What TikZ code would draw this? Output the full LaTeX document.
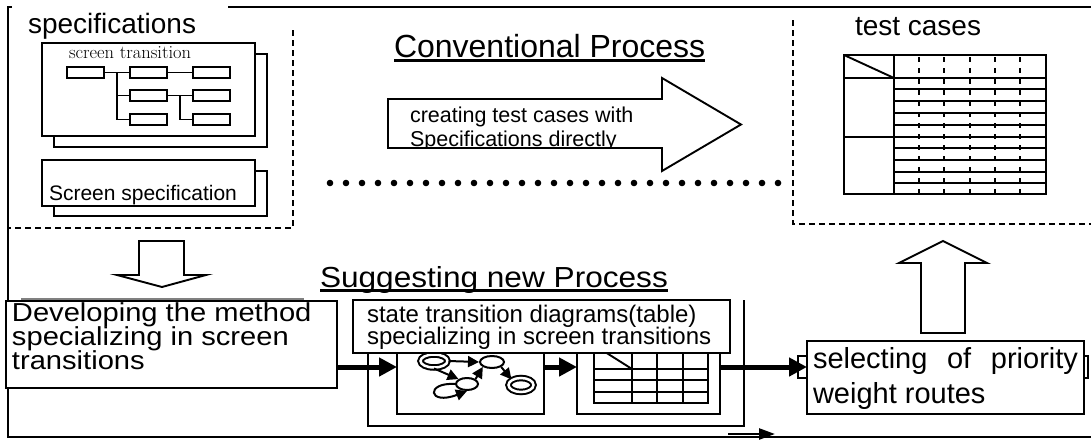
\documentclass[tikz,border=0pt]{standalone}
\usepackage{fontspec}
\setsansfont{Liberation Sans}
\usepackage{graphicx}
\usetikzlibrary{arrows.meta,shapes.geometric}
\newcommand\pxsize[1]{\fontsize{#1}{#1}\selectfont}
\begin{document}
\begin{tikzpicture}[x=1pt,y=-1pt,
  frame/.style={line width=2pt},
  edge/.style={line width=1.9pt, dash pattern=on 6pt off 4pt},
  box/.style={draw, line width=1.9pt, fill=white, inner sep=0pt, outer sep=0pt},
  sheet/.style={draw, line width=1.9pt, fill=white},
  scr/.style={box, line width=1.7pt, minimum width=37pt, minimum height=11pt},
  tree/.style={line width=1.7pt},
  lbl/.style={inner sep=0pt, outer sep=0pt, anchor=base west},
  flow/.style={line width=5pt, -{Triangle[length=18pt,width=18pt]}},
  sarrow/.style={line width=2pt, -{Triangle[length=11pt,width=11pt]}},
  state/.style={ellipse, draw, line width=2pt, fill=white, inner sep=0pt},
  final/.style={state, double, double distance=2.5pt},
  fat/.style={draw, line width=1.9pt, fill=white, line join=miter},
  grid/.style={line width=1.9pt},
]
\useasboundingbox (0,0) rectangle (1091,439);

% outer frame
\draw[frame] (12,7) -- (8,7) -- (8,437) -- (1091,437);
\draw[frame] (228,7) -- (1091,7);

% dashed areas: specifications (left) and test cases (right)
\draw[edge] (293,30) -- (293,228) -- (8,228);
\draw[edge] (793,20) -- (793,224) -- (1091,224);

% ---- specifications ----
\node[lbl, font=\sffamily\pxsize{28}] (spec) at (28,33) {specifications};

\draw[sheet] (54,54) rectangle (267,147);
\node[box, minimum width=213pt, minimum height=93pt] (stsheet) at (148.5,89.5) {};
\node[lbl, font=\rmfamily\pxsize{18.5}] (sttitle) at (69,58) {screen transition};

\node[scr] (t1) at (85.5,72.5) {};
\node[scr] (t2) at (148.5,72.5) {};
\node[scr] (t3) at (211.5,72.5) {};
\node[scr] (t4) at (148.5,95.5) {};
\node[scr] (t5) at (211.5,95.5) {};
\node[scr] (t6) at (148.5,119.5) {};
\node[scr] (t7) at (211.5,119.5) {};
\draw[tree] (t1) -- (t2);
\draw[tree] (t2) -- (t3);
\draw[tree] (t4) -- (t5);
\draw[tree] (t1.east) -- ++(13,0) coordinate (b1) |- (t6.west);
\draw[tree] (b1) |- (t4.west);
\draw[tree] (t4.east) -- ++(13,0) |- (t7.west);

\draw[sheet] (54,171) rectangle (267,216);
\node[box, minimum width=213pt, minimum height=46pt] (sssheet) at (148.5,183) {};
\node[lbl, font=\sffamily\pxsize{21}] (sstitle) at (49,200) {Screen specification};

% ---- conventional process ----
\node[lbl, font=\sffamily\pxsize{32}] (conv) at (394,57) {Conventional Process};
\draw[line width=2.2pt] ([yshift=-3.5pt]conv.base west) -- ([yshift=-3.5pt]conv.base east);

\draw[fat] (388,99) -- (662,99) -- (662,78) -- (741,124.5) -- (662,171) -- (662,148) -- (388,148) -- cycle;
\begin{scope}
  \clip (389,100) rectangle (661,147);
  \node[lbl, font=\sffamily\pxsize{21.5}] (cv1) at (410,122) {creating test cases with};
  \node[lbl, font=\sffamily\pxsize{21.5}] (cv2) at (410,146) {Specifications directly};
\end{scope}

\foreach \i in {0,...,28} \fill (330+16*\i,183) circle (3.3pt);

% ---- test cases ----
\node[lbl, font=\sffamily\pxsize{28}] (tc) at (855,35) {test cases};
\draw[grid] (844,55) rectangle (1046,194);
\draw[grid] (894,55) -- (894,194) (844,78) -- (1046,78) (844,137) -- (894,137) (844,55) -- (894,78);
\foreach \y in {89,101,113,125,137,148,160,172,183} \draw[grid] (894,\y) -- (1046,\y);
\foreach \x in {919,944,970,995,1020} \draw[grid, dash pattern=on 5pt off 6pt] (\x,57) -- (\x,194);

% ---- block arrows between the processes ----
\draw[fat] (139,241) -- (184,241) -- (184,275) -- (206,275) -- (162,287) -- (117,275) -- (139,275) -- cycle;
\draw[fat] (921,333) -- (921,263) -- (899,263) -- (943,241) -- (987,263) -- (965,263) -- (965,333) -- cycle;

% ---- suggested process ----
\node[lbl, font=\sffamily\pxsize{29}] (sug) at (320,287) {\scalebox{1.09}[1]{Suggesting new Process}};
\draw[line width=2.2pt] ([yshift=-3.5pt]sug.base west) -- ([yshift=-3.5pt]sug.base east);

\draw[gray, line width=1.4pt] (21,299) -- (304,299);
\node[box, minimum width=331pt, minimum height=87pt] (dev) at (171.5,344.5) {};
\node[lbl, font=\sffamily\pxsize{26}] (dv1) at (12,321) {\scalebox{1.12}[1]{Developing the method}};
\node[lbl, font=\sffamily\pxsize{26}] (dv2) at (12,345) {\scalebox{1.12}[1]{specializing in screen}};
\node[lbl, font=\sffamily\pxsize{26}] (dv3) at (12,369) {\scalebox{1.12}[1]{transitions}};

\draw[line width=2pt] (744,300) -- (744,426) -- (368,426) -- (368,330);
\node[box, minimum width=147pt, minimum height=76pt] (diag) at (470.5,376) {};
\node[box, minimum width=143pt, minimum height=76pt] (tbl) at (648.5,376) {};

% state transition diagram
\node[final, minimum width=27pt, minimum height=13pt] (s0) at (434,361) {};
\node[state, minimum width=24pt, minimum height=12pt] (s1) at (492,362) {};
\node[state, minimum width=22pt, minimum height=12pt] (s2) at (467,384) {};
\node[final, minimum width=25pt, minimum height=14pt] (s3) at (521,385) {};
\draw[sarrow] (s0.east) -- (s1.west);
\draw[sarrow] (s0.south) -- (s2.north west);
\draw[sarrow] (s2.north east) -- (s1.south west);
\draw[sarrow] (s1.south east) -- (s3.north west);
\draw[sarrow] (s2.west) .. controls (425,382) and (428,406) .. (s2.south);

% state transition table
\draw[grid] (594,345) rectangle (708,403);
\draw[grid] (632,345) -- (632,403) (657,345) -- (657,403) (683,345) -- (683,403);
\draw[grid] (594,369) -- (708,369) (594,380) -- (708,380) (594,392) -- (708,392);
\draw[grid] (594,345) -- (632,369);

\node[box, minimum width=377pt, minimum height=53pt] (stt) at (541.5,326.5) {};
\node[lbl, font=\sffamily\pxsize{24}] (st1) at (367,322) {state transition diagrams(table)};
\node[lbl, font=\sffamily\pxsize{24}] (st2) at (367,344) {specializing in screen transitions};

% flow of the suggested process
\coordinate (flowy) at (0,367);
\draw[flow] (dev.east |- flowy) -- (diag.west |- flowy);
\draw[flow] (diag.east |- flowy) -- (tbl.west |- flowy);

\draw[line width=1.9pt] (798,356) rectangle (1088,378);
\node[box, minimum width=277pt, minimum height=73pt] (sel) at (945.5,377.5) {};
\draw[flow] (tbl.east |- flowy) -- (sel.west |- flowy);
\node[lbl, font=\sffamily\pxsize{29}] (sl1) at (813,368) {\makebox[265pt][s]{selecting of priority}};
\node[lbl, font=\sffamily\pxsize{29}] (sl2) at (813,403) {weight routes};

\coordinate (ba) at (728,434);
\coordinate (bb) at (775,434);
\draw[line width=2.5pt, -{Triangle[length=16pt,width=11pt]}] (ba) -- (bb);
\end{tikzpicture}
\end{document}
